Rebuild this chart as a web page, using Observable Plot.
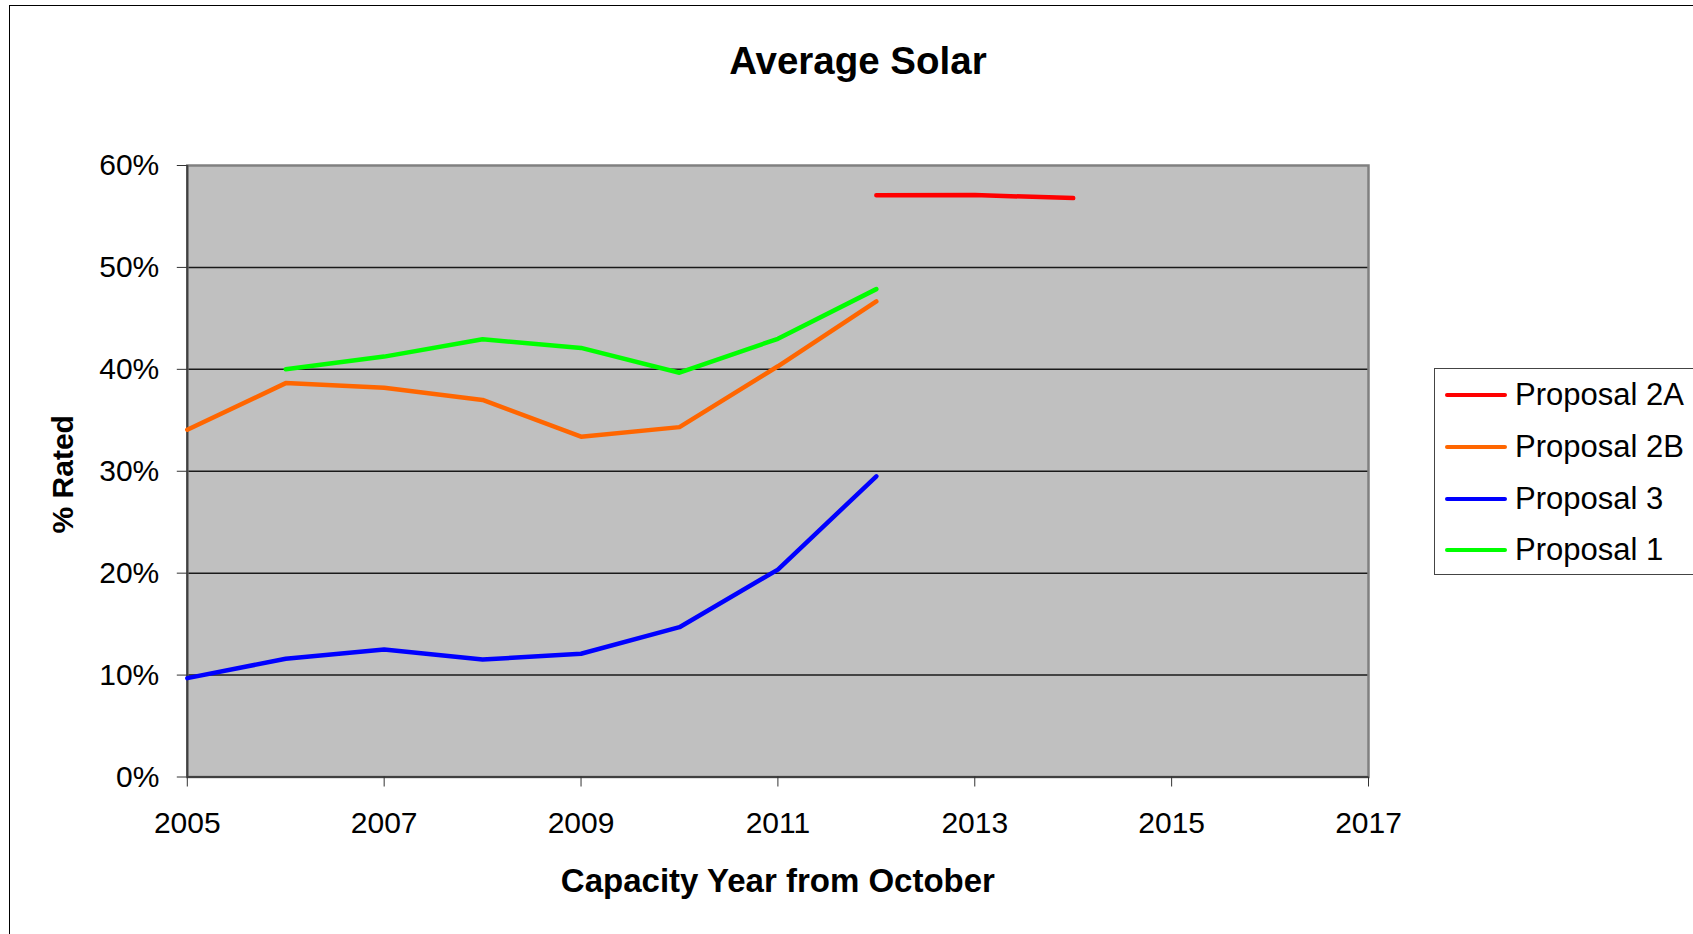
<!DOCTYPE html>
<html>
<head>
<meta charset="utf-8">
<script src="https://cdn.jsdelivr.net/npm/d3@7"></script>
<script src="https://cdn.jsdelivr.net/npm/@observablehq/plot@0.6"></script>
<style>
  html, body { margin: 0; padding: 0; background: #fff; overflow: hidden; }
  #wrap { position: relative; width: 1693px; height: 934px; overflow: hidden; font-family: "Liberation Sans", Arial, sans-serif; }
  #outer { position: absolute; left: 9px; top: 5px; width: 1800px; height: 1000px; border-left: 1.5px solid #000; border-top: 1.5px solid #000; pointer-events: none; }
  #legend { position: absolute; left: 1434px; top: 368px; width: 320px; height: 207px; border: 1.5px solid #444; background: #fff; box-sizing: border-box; }
  .lrow { position: absolute; left: 10px; height: 40px; display: flex; align-items: center; }
  .lline { width: 62px; height: 4px; border-radius: 2px; margin-right: 8px; }
  .ltext { font-size: 31px; color: #000; white-space: nowrap; }
  svg { position: absolute; left: 0; top: 0; }
</style>
</head>
<body>
<div id="wrap"><div id="outer"></div></div>
<script>
// ---- data ----
const seriesNames = ["Proposal 2A", "Proposal 2B", "Proposal 3", "Proposal 1"];
const seriesColors = ["#ff0000", "#ff6600", "#0000ff", "#00ff00"];

const years2A = [2012, 2013, 2014];
const values2A = [57.07, 57.1, 56.8];

const years2B = [2005, 2006, 2007, 2008, 2009, 2010, 2011, 2012];
const values2B = [34.07, 38.65, 38.2, 37.0, 33.39, 34.33, 40.3, 46.66];

const years3 = [2005, 2006, 2007, 2008, 2009, 2010, 2011, 2012];
const values3 = [9.7, 11.6, 12.51, 11.53, 12.09, 14.7, 20.35, 29.5];

const years1 = [2006, 2007, 2008, 2009, 2010, 2011, 2012];
const values1 = [40.0, 41.25, 42.95, 42.1, 39.67, 43.0, 47.87];

const xTicks = [2005, 2007, 2009, 2011, 2013, 2015, 2017];
const yTicks = [0, 10, 20, 30, 40, 50, 60];
const gridTicks = [10, 20, 30, 40, 50];

const titleText = "Average Solar";
const xTitle = "Capacity Year from October";
const yTitle = "% Rated";

// ---- build table ----
const rows = [];
[[years2A, values2A, seriesNames[0]], [years2B, values2B, seriesNames[1]],
 [years3, values3, seriesNames[2]], [years1, values1, seriesNames[3]]].forEach(([ys, vs, name]) => {
  ys.forEach((y, i) => rows.push({year: y, value: vs[i], series: name}));
});

const chart = Plot.plot({
  width: 1693,
  height: 934,
  marginLeft: 186.8,
  marginRight: 325,
  marginTop: 165,
  marginBottom: 157.5,
  style: {fontFamily: "'Liberation Sans', Arial, sans-serif", fontSize: "30px", background: "transparent", overflow: "visible"},
  x: {domain: [2005, 2017]},
  y: {domain: [0, 60]},
  color: {domain: seriesNames, range: seriesColors},
  marks: [
    Plot.frame({fill: "#c0c0c0"}),
    Plot.ruleY(gridTicks, {stroke: "#1a1a1a", strokeWidth: 1.5}),
    Plot.frame({stroke: "#808080", strokeWidth: 2.5}),
    Plot.ruleX([2005], {stroke: "#404040", strokeWidth: 2}),
    Plot.ruleY([0], {stroke: "#404040", strokeWidth: 2}),
    Plot.axisY({ticks: yTicks, tickSize: 10, tickPadding: 18, tickFormat: d => d + "%", label: null, stroke: "#333", fontSize: 30, fill: "#000"}),
    Plot.axisX({ticks: xTicks, tickSize: 10, tickPadding: 25, tickFormat: d => String(d), label: null, stroke: "#333", fontSize: 30, fill: "#000"}),
    Plot.line(rows, {x: "year", y: "value", z: "series", stroke: "series", strokeWidth: 4.5}),
    Plot.text([titleText], {frameAnchor: "top", dx: 80, dy: -104, text: d => d, fontSize: 38.5, fontWeight: "bold", lineAnchor: "middle", fill: "#000"}),
    Plot.text([xTitle], {frameAnchor: "bottom", dy: 104, text: d => d, fontSize: 33, fontWeight: "bold", lineAnchor: "middle", fill: "#000"}),
    Plot.text([yTitle], {frameAnchor: "left", dx: -124, dy: 3, rotate: -90, textAnchor: "middle", text: d => d, fontSize: 30, fontWeight: "bold", lineAnchor: "middle", fill: "#000"})
  ]
});

const wrap = document.getElementById("wrap");
wrap.insertBefore(chart, wrap.firstChild);

// ---- legend ----
const legend = document.createElement("div");
legend.id = "legend";
const rowCenters = [25.5, 77.5, 129.5, 181];
seriesNames.forEach((name, i) => {
  const r = document.createElement("div");
  r.className = "lrow";
  r.style.top = (rowCenters[i] - 20) + "px";
  const l = document.createElement("div");
  l.className = "lline";
  l.style.background = seriesColors[i];
  const t = document.createElement("span");
  t.className = "ltext";
  t.textContent = name;
  r.appendChild(l); r.appendChild(t);
  legend.appendChild(r);
});
wrap.appendChild(legend);
</script>
</body>
</html>
